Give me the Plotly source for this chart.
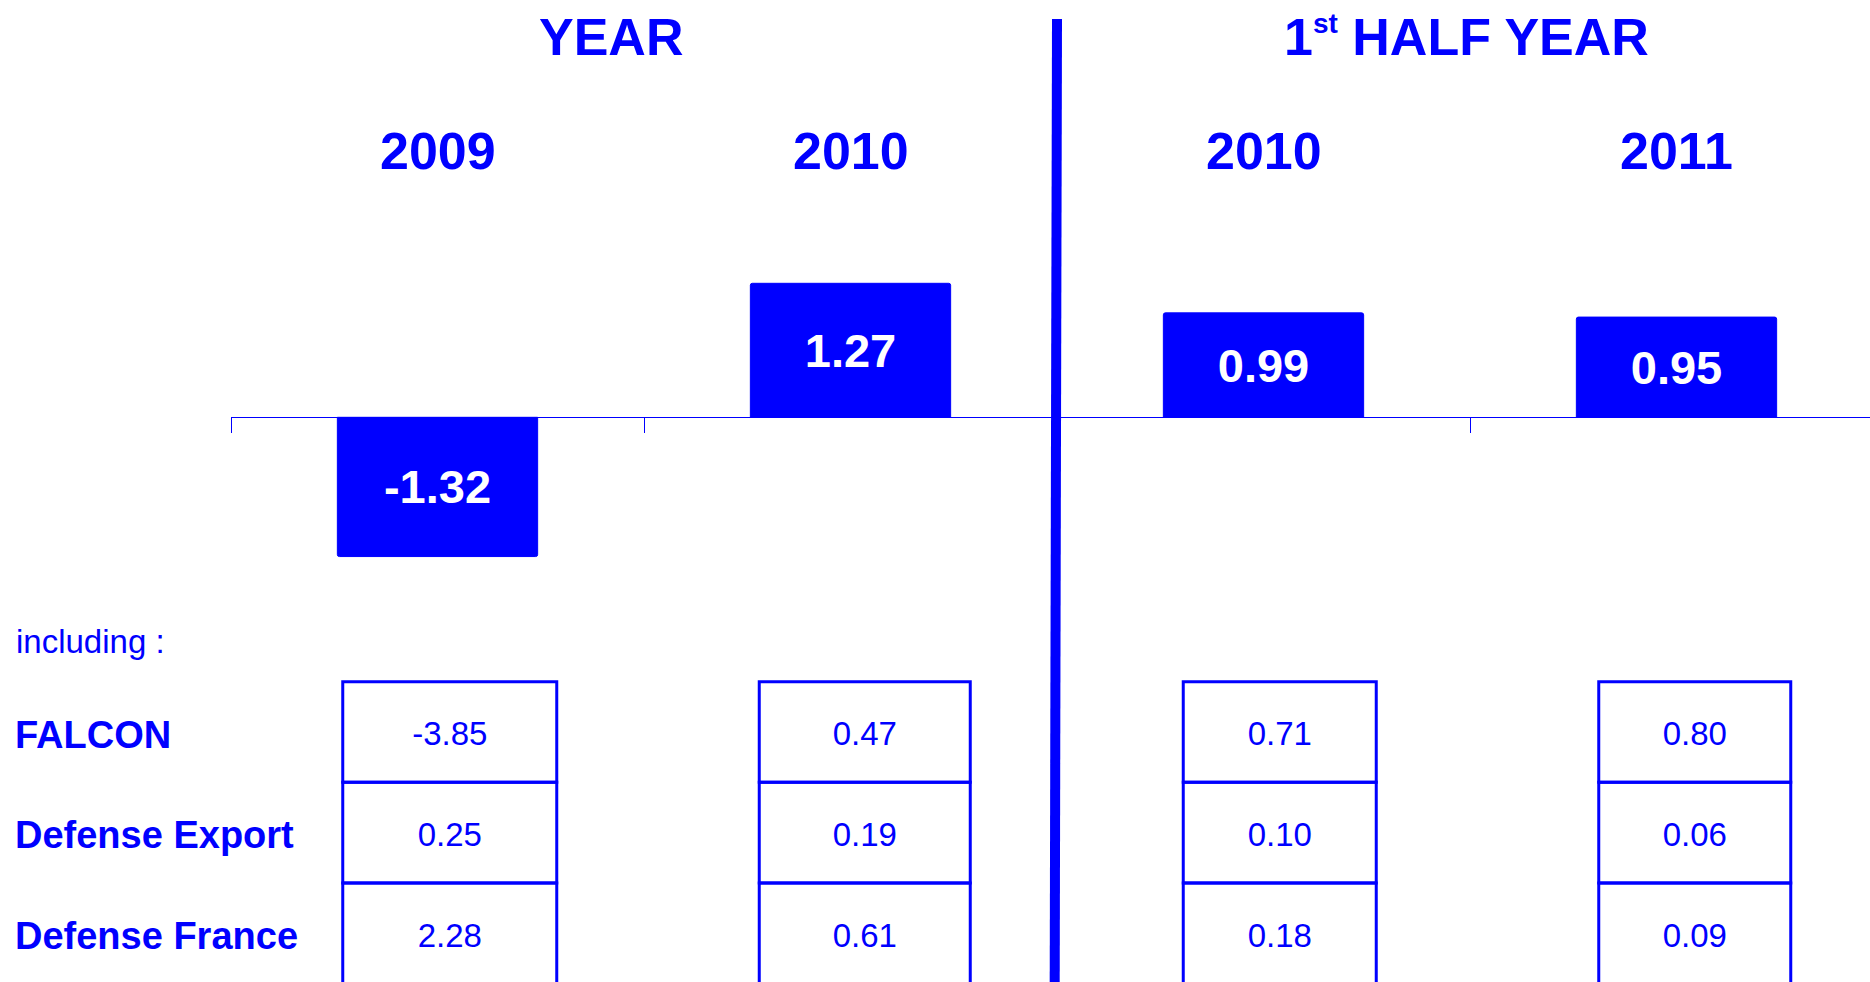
import plotly.graph_objects as go

# ---------------- data ----------------
periods = ["FY 2009", "FY 2010", "H1 2010", "H1 2011"]
year_labels = ["2009", "2010", "2010", "2011"]
eps = [-1.32, 1.27, 0.99, 0.95]

segments = ["FALCON", "Defense Export", "Defense France"]
falcon = [-3.85, 0.47, 0.71, 0.80]
defense_export = [0.25, 0.19, 0.10, 0.06]
defense_france = [2.28, 0.61, 0.18, 0.09]

group_titles = ["YEAR", "1<sup><span style='font-size:28px'>st</span></sup> HALF YEAR"]

# ---------------- layout constants ----------------
W, H = 1870, 982
BLUE = "#0000FF"
FONT = "Liberation Sans, Arial, sans-serif"


def px(x):
    return x / W


def py(y):
    return 1 - y / H


# bar chart geometry
x_left = 231          # pixel where axis starts
cat_px = 413          # pixels per category
zero_y = 417.3        # pixel of value 0
unit_px = 105.5       # pixels per unit
# table geometry
tbl_x0 = 449.75       # pixel centre of first table column
tbl_step = 415.0
tbl_row0 = 732.0
tbl_row_h = 100.7
col_widths_px = [214, 211, 193, 192]
text_dy = 0.05        # small downward nudge of cell text (in rows)

fig = go.Figure()

fig.add_trace(go.Bar(
    x=periods, y=eps,
    marker=dict(color=BLUE, line=dict(color=BLUE, width=1), cornerradius=2),
    width=0.485,
    text=[f"{v:.2f}" for v in eps],
    textposition="inside", insidetextanchor="middle", textangle=0,
    constraintext="none",
    textfont=dict(family=FONT, size=47, color="white", weight="bold"),
    hoverinfo="skip", showlegend=False,
    xaxis="x", yaxis="y",
))

# table values
rows = [falcon, defense_export, defense_france]
tx, ty, tt = [], [], []
for r, vals in enumerate(rows):
    for i, v in enumerate(vals):
        tx.append(i)
        ty.append(r + text_dy)
        tt.append(f"{v:.2f}")
fig.add_trace(go.Scatter(
    x=tx, y=ty, text=tt, mode="text", textposition="middle center",
    textfont=dict(family=FONT, size=33, color=BLUE),
    hoverinfo="skip", showlegend=False,
    xaxis="x2", yaxis="y2",
))

shapes = []
for r in range(len(rows)):
    for i in range(len(periods)):
        hw = col_widths_px[i] / 2 / tbl_step
        shapes.append(dict(
            type="rect", xref="x2", yref="y2",
            x0=i - hw, x1=i + hw, y0=r - 0.5, y1=r + 0.5,
            line=dict(color=BLUE, width=3), layer="above",
        ))

# divider line
shapes.append(dict(
    type="line", xref="paper", yref="paper",
    x0=px(1057), y0=py(19), x1=px(1054.7), y1=0,
    line=dict(color=BLUE, width=10), layer="above",
))

annotations = []
# group titles
annotations.append(dict(
    text=group_titles[0], x=px(611), y=py(37), xref="paper", yref="paper",
    showarrow=False, xanchor="center", yanchor="middle",
    font=dict(family=FONT, size=52, color=BLUE, weight="bold"),
))
annotations.append(dict(
    text=group_titles[1], x=px(1466.7), y=py(37), xref="paper", yref="paper",
    showarrow=False, xanchor="center", yanchor="middle",
    font=dict(family=FONT, size=52, color=BLUE, weight="bold"),
))
# year labels over each bar (category index positions)
for i, lab in enumerate(year_labels):
    annotations.append(dict(
        text=lab, x=i, y=py(151), xref="x", yref="paper",
        showarrow=False, xanchor="center", yanchor="middle",
        font=dict(family=FONT, size=52, color=BLUE, weight="bold"),
    ))
# "including :"
annotations.append(dict(
    text="including :", x=px(14), y=py(641), xref="paper", yref="paper",
    showarrow=False, xanchor="left", yanchor="middle",
    font=dict(family=FONT, size=33, color=BLUE),
))
# row labels
for r, seg in enumerate(segments):
    annotations.append(dict(
        text=seg, x=px(13), y=r + text_dy / 2, xref="paper", yref="y2",
        showarrow=False, xanchor="left", yanchor="middle",
        font=dict(family=FONT, size=38, color=BLUE, weight="bold"),
    ))

x_range_end = -0.5 + (W - x_left) / cat_px
tbl_range = [(0 - tbl_x0) / tbl_step, (W - tbl_x0) / tbl_step]

fig.update_layout(
    width=W, height=H,
    margin=dict(l=0, r=0, t=0, b=0),
    paper_bgcolor="white", plot_bgcolor="rgba(0,0,0,0)",
    showlegend=False,
    xaxis=dict(
        type="category", domain=[px(x_left), 1],
        range=[-0.5, x_range_end],
        anchor="free", position=py(zero_y),
        showline=True, linecolor=BLUE, linewidth=1,
        ticks="outside", tickson="boundaries", ticklen=15, tickwidth=1, tickcolor=BLUE,
        showticklabels=False, showgrid=False, zeroline=False, fixedrange=True,
    ),
    yaxis=dict(
        domain=[0, 1],
        range=[-(H - zero_y) / unit_px, zero_y / unit_px],
        visible=False, fixedrange=True,
    ),
    xaxis2=dict(
        domain=[0, 1], range=tbl_range, visible=False,
        anchor="y2", fixedrange=True,
    ),
    yaxis2=dict(
        domain=[0, 1],
        range=[(H - tbl_row0) / tbl_row_h, (0 - tbl_row0) / tbl_row_h],
        visible=False, anchor="x2", fixedrange=True,
    ),
    shapes=shapes,
    annotations=annotations,
    font=dict(family=FONT, color=BLUE),
)

fig.write_html(
    "out.html",
    config={"displayModeBar": False, "staticPlot": True},
    post_script="document.body.style.margin='0';document.body.style.overflow='hidden';",
)
